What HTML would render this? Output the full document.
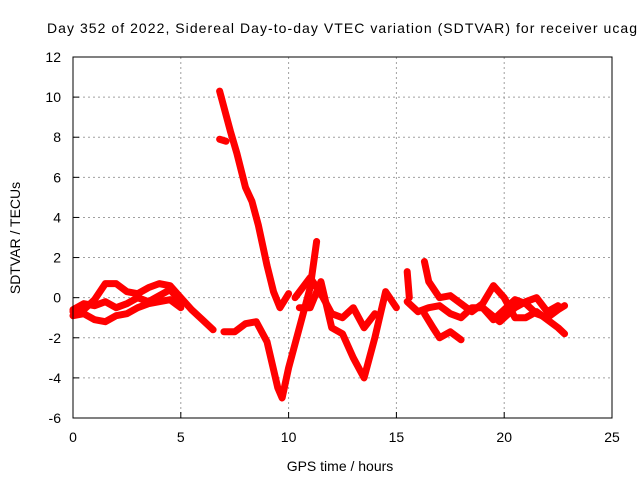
<!DOCTYPE html>
<html><head><meta charset="utf-8"><style>
body{margin:0;background:#fff}
svg{display:block;font-family:"Liberation Sans",sans-serif}
</style></head><body>
<svg id="chart" width="640" height="480">
<text x="47" y="33" font-size="14" text-anchor="start" textLength="590" lengthAdjust="spacing">Day 352 of 2022, Sidereal Day-to-day VTEC variation (SDTVAR) for receiver ucag</text>
<text x="340" y="471" font-size="14" text-anchor="middle">GPS time / hours</text>
<text x="20" y="238" font-size="14" text-anchor="middle" transform="rotate(-90 20 238)">SDTVAR / TECUs</text>
<g id="grid"></g><g id="axes"></g><g id="marks"></g>
<rect x="73" y="57" width="539" height="361" fill="none" stroke="#000" stroke-width="1"/>
</svg>
<script>
const xTicks=[0,5,10,15,20,25];
const yTicks=[-6,-4,-2,0,2,4,6,8,10,12];
const s1t=[0,0.5,1,1.5,2,2.5,3,3.5,4,4.5,5,5.5,6,6.5];
const s1v=[-0.7,-0.6,-0.1,0.7,0.7,0.3,0.2,0.5,0.7,0.6,0,-0.6,-1.1,-1.6];
const s2t=[0,0.5,1,1.5,2,2.5,3,3.5,4,4.5,5];
const s2v=[-0.9,-0.8,-1.1,-1.2,-0.9,-0.8,-0.5,-0.3,-0.2,-0.1,-0.5];
const s3t=[0,0.5,1,1.5,2,2.5,3,3.5,4,4.5,5];
const s3v=[-0.6,-0.3,-0.4,-0.2,-0.5,-0.3,0,-0.2,0.1,0.4,-0.2];
const s4t=[6.8,7,7.3,7.6,8,8.3,8.6,9,9.3,9.6,10];
const s4v=[10.3,9.5,8.3,7.2,5.5,4.8,3.6,1.6,0.3,-0.5,0.2];
const s5t=[6.8,7.1];
const s5v=[7.9,7.8];
const s6t=[7,7.5,8,8.5,9,9.5,9.7,10,10.5,11,11.3];
const s6v=[-1.7,-1.7,-1.3,-1.2,-2.2,-4.5,-5,-3.5,-1.5,0.5,2.8];
const s7t=[10.5,11,11.5,12,12.5,13,13.5,14,14.5,15];
const s7v=[-0.5,-0.5,0.8,-1.5,-1.8,-3,-4,-2,0.3,-0.5];
const s8t=[10.3,11,11.5,12,12.5,13,13.5,14];
const s8v=[0,1,0.2,-0.8,-1,-0.5,-1.5,-0.8];
const s9t=[15.5,16,16.5,17,17.5,18,18.5,19,19.5,20,20.5,21,21.5,22,22.5,22.8];
const s9v=[-0.2,-0.7,-0.5,-0.4,-0.8,-1.0,-0.5,-0.5,-1.1,-0.6,-0.1,-0.3,-0.8,-1.0,-0.6,-0.4];
const s10t=[16.3,16.5,17,17.5,18,18.5,19,19.5,20,20.5,21,21.5,22,22.5,22.8];
const s10v=[1.8,0.8,0,0.1,-0.3,-0.7,-0.3,0.6,0,-1,-1,-0.7,-1.1,-1.5,-1.8];
const s11t=[16.3,16.7,17,17.5,18];
const s11v=[-0.8,-1.5,-2,-1.7,-2.1];
const s12t=[19,19.8,20.5,21,21.5,22,22.5];
const s12v=[-0.5,-1.2,-0.5,-0.2,0,-0.7,-0.4];
const s13t=[15.5,15.6];
const s13v=[1.3,0.0];
const series=[[s1t,s1v],[s2t,s2v],[s3t,s3v],[s4t,s4v],[s5t,s5v],[s6t,s6v],[s7t,s7v],[s8t,s8v],[s9t,s9v],[s10t,s10v],[s11t,s11v],[s12t,s12v],[s13t,s13v]];
const X=t=>73+t*(539/25), Y=v=>418-(v+6)*(361/18);
const NS="http://www.w3.org/2000/svg";
const grid=document.getElementById('grid'),axes=document.getElementById('axes'),marks=document.getElementById('marks');
function mk(tag,attrs,parent){const e=document.createElementNS(NS,tag);for(const k in attrs)e.setAttribute(k,attrs[k]);parent.appendChild(e);return e;}
xTicks.forEach(t=>{
 if(t>0&&t<25){const g=mk('line',{x1:X(t),x2:X(t),y1:57,y2:418,stroke:'#a0a0a0','stroke-dasharray':'2,3'},grid);
 
 }
 const tk=mk('line',{x1:X(t),x2:X(t),y1:418,y2:412,stroke:'#000'},axes);
 
 
 const tx=mk('text',{x:X(t),y:442,'font-size':14,'text-anchor':'middle'},axes);tx.textContent=t;
 
 
});
yTicks.forEach(v=>{
 if(v>-6&&v<12){const g=mk('line',{x1:73,x2:612,y1:Y(v),y2:Y(v),stroke:'#a0a0a0','stroke-dasharray':'2,3'},grid);
 
 }
 const tk=mk('line',{x1:73,x2:79,y1:Y(v),y2:Y(v),stroke:'#000'},axes);
 
 
 const tx=mk('text',{x:61,y:Y(v)+5,'font-size':14,'text-anchor':'end'},axes);tx.textContent=v;
 
 
});
series.forEach(([ts,vs])=>{
 const pl=mk('polyline',{points:ts.map((t,i)=>X(t)+','+Y(vs[i])).join(' '),fill:'none',stroke:'#f00','stroke-width':7,'stroke-linejoin':'round','stroke-linecap':'round'},marks);
 
 
});
</script>
</body></html>
